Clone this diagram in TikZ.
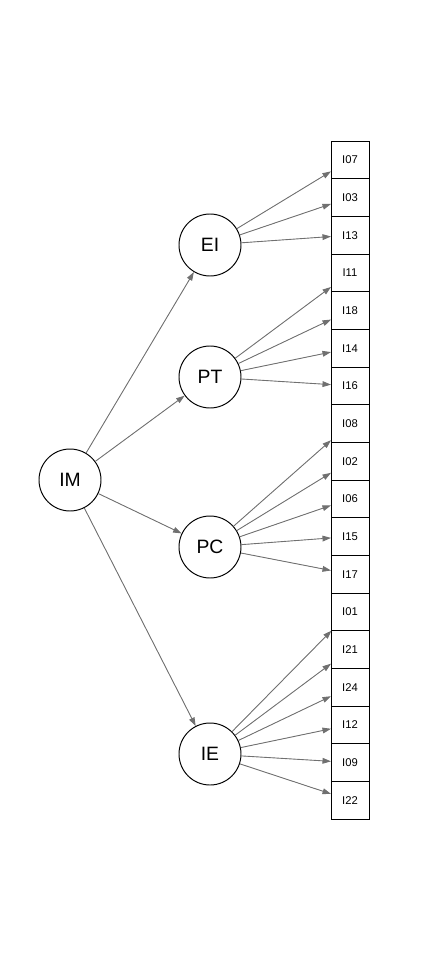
\documentclass[tikz,border=0pt]{standalone}
\usepackage{xcolor}
\usepackage{fontspec}
\setmainfont{Liberation Sans}
\usepackage{tikz}
\usetikzlibrary{arrows.meta,positioning}
\definecolor{pathgray}{RGB}{112,112,112}

\begin{document}
\begin{tikzpicture}[
    latent/.style={draw, circle, line width=0.55pt, minimum size=1.24cm, inner sep=0pt, font=\fontsize{11}{13}\selectfont},
    item/.style={draw, line width=0.55pt, minimum width=0.76cm, minimum height=0.7533cm, inner sep=0pt, outer sep=0pt, font=\fontsize{6.4}{8}\selectfont},
    path/.style={-{Triangle[length=1.7mm,width=1.15mm]}, draw=pathgray, fill=pathgray, line width=0.5pt}
]
\useasboundingbox (0,0) rectangle (8.4,-19.2);

% latent factors
\node[latent] (IM) at (1.4,-9.6) {IM};
\node[latent] (EI) at (4.2,-4.9) {EI};
\node[latent] (PT) at (4.2,-7.54) {PT};
\node[latent] (PC) at (4.2,-10.94) {PC};
\node[latent] (IE) at (4.2,-15.08) {IE};

% item column
\node[item] (I07) at (7,-3.197) {I07};
\node[item, below=0pt of I07] (I03) {I03};
\node[item, below=0pt of I03] (I13) {I13};
\node[item, below=0pt of I13] (I11) {I11};
\node[item, below=0pt of I11] (I18) {I18};
\node[item, below=0pt of I18] (I14) {I14};
\node[item, below=0pt of I14] (I16) {I16};
\node[item, below=0pt of I16] (I08) {I08};
\node[item, below=0pt of I08] (I02) {I02};
\node[item, below=0pt of I02] (I06) {I06};
\node[item, below=0pt of I06] (I15) {I15};
\node[item, below=0pt of I15] (I17) {I17};
\node[item, below=0pt of I17] (I01) {I01};
\node[item, below=0pt of I01] (I21) {I21};
\node[item, below=0pt of I21] (I24) {I24};
\node[item, below=0pt of I24] (I12) {I12};
\node[item, below=0pt of I12] (I09) {I09};
\node[item, below=0pt of I09] (I22) {I22};

% second order paths
\draw[path] (IM) -- (EI);
\draw[path] (IM) -- (PT);
\draw[path] (IM) -- (PC);
\draw[path] (IM) -- (IE);

% loadings
\draw[path] (EI) -- (I07);
\draw[path] (EI) -- (I03);
\draw[path] (EI) -- (I13);

\draw[path] (PT) -- (I11);
\draw[path] (PT) -- (I18);
\draw[path] (PT) -- (I14);
\draw[path] (PT) -- (I16);

\draw[path] (PC) -- (I08);
\draw[path] (PC) -- (I02);
\draw[path] (PC) -- (I06);
\draw[path] (PC) -- (I15);
\draw[path] (PC) -- (I17);

\draw[path] (IE) -- (I01);
\draw[path] (IE) -- (I21);
\draw[path] (IE) -- (I24);
\draw[path] (IE) -- (I12);
\draw[path] (IE) -- (I09);
\draw[path] (IE) -- (I22);
\end{tikzpicture}
\end{document}
